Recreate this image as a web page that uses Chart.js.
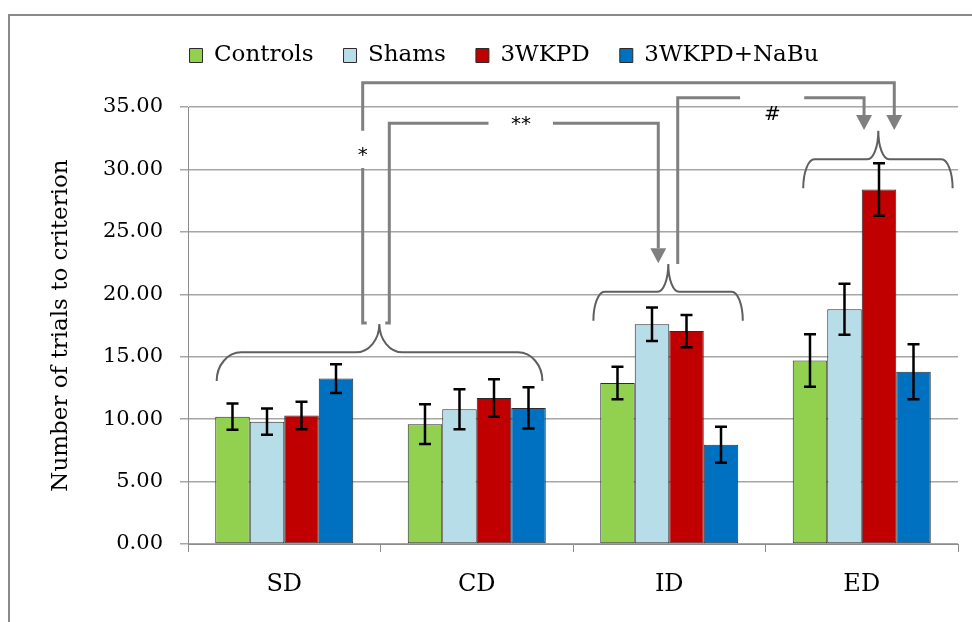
<!DOCTYPE html>
<html>
<head>
<meta charset="utf-8">
<script src="https://cdn.jsdelivr.net/npm/chart.js@4/dist/chart.umd.min.js"></script>
<style>
  html, body { margin: 0; padding: 0; background: #fff; }
  canvas { display: block; }
</style>
</head>
<body>
<canvas id="chart" width="972" height="622"></canvas>
<script>
// Task stages and groups
const categories = ['SD', 'CD', 'ID', 'ED'];
const seriesNames = ['Controls', 'Shams', '3WKPD', '3WKPD+NaBu'];

// Mean trials to criterion per stage
const controls = [10.2, 9.6, 12.9, 14.7];
const shams    = [9.8, 10.8, 17.6, 18.8];
const wkpd     = [10.3, 11.7, 17.05, 28.4];
const wkpdNaBu = [13.25, 10.9, 7.95, 13.8];

// Error (± SEM)
const controlsErr = [1.05, 1.6, 1.3, 2.1];
const shamsErr    = [1.05, 1.6, 1.35, 2.05];
const wkpdErr     = [1.1, 1.5, 1.3, 2.1];
const wkpdNaBuErr = [1.15, 1.65, 1.45, 2.2];

// Y axis range
const yMin = 0, yMax = 35, yStep = 5;

const colors = ['#92D050', '#B7DEE8', '#C00000', '#0070C0'];
const values = [controls, shams, wkpd, wkpdNaBu];
const errors = [controlsErr, shamsErr, wkpdErr, wkpdNaBuErr];

// Significance markers: braces over grouped stages and connector arrows.
// x positions are in category units (0 = SD centre), y positions in axis units.
const braces = [
  { from: -0.351, to: 1.341, peak: 0.494, yEnd: 13.05, yMid: 15.35, yPeak: 17.62 },
  { from: 1.606, to: 2.382, peak: 1.995, yEnd: 17.88, yMid: 20.21, yPeak: 22.43 },
  { from: 2.696, to: 3.472, peak: 3.086, yEnd: 28.49, yMid: 30.81, yPeak: 33.10 }
];
const connectors = [
  { label: '*', hook: 1,
    path: [[0.4075, 17.70], [0.4075, 36.95], [3.169, 36.95], [3.169, 33.16]],
    gap: { seg: 0, a: 30.11, b: 33.10 }, text: [0.4075, 31.33] },
  { label: '**', hook: -1,
    path: [[0.5457, 17.70], [0.5457, 33.69], [1.943, 33.69], [1.943, 22.48]],
    gap: { seg: 1, a: 1.061, b: 1.396 }, text: [1.23, 33.80] },
  { label: '#', hook: 0,
    path: [[2.044, 22.43], [2.044, 35.74], [3.012, 35.74], [3.012, 33.16]],
    gap: { seg: 1, a: 2.368, b: 2.701 }, text: [2.536, 34.62] }
];

Chart.defaults.font.family = '"DejaVu Serif", "Liberation Serif", serif';
Chart.defaults.color = '#000';

function catX(chart, u) {
  const s = chart.scales.x;
  const c0 = s.getPixelForValue(0), c1 = s.getPixelForValue(1);
  return c0 + u * (c1 - c0);
}
function valY(chart, v) { return chart.scales.y.getPixelForValue(v); }

const frame = {
  id: 'frame',
  beforeDraw(chart) {
    const ctx = chart.ctx;
    ctx.save();
    ctx.fillStyle = '#fff';
    ctx.fillRect(0, 0, chart.width, chart.height);
    ctx.strokeStyle = '#8a8a8a';
    ctx.lineWidth = 2;
    ctx.strokeRect(9, 15, chart.width + 20, chart.height + 20);
    ctx.restore();
  }
};

const errorBars = {
  id: 'errorBars',
  afterDatasetsDraw(chart) {
    const ctx = chart.ctx;
    ctx.save();
    ctx.strokeStyle = '#000';
    ctx.lineWidth = 2.5;
    chart.data.datasets.forEach((ds, i) => {
      chart.getDatasetMeta(i).data.forEach((bar, j) => {
        const v = ds.data[j], e = ds.errors[j];
        const x = bar.x;
        const yt = valY(chart, v + e), yb = valY(chart, v - e);
        ctx.beginPath();
        ctx.moveTo(x, yt); ctx.lineTo(x, yb);
        ctx.moveTo(x - 6, yt); ctx.lineTo(x + 6, yt);
        ctx.moveTo(x - 6, yb); ctx.lineTo(x + 6, yb);
        ctx.stroke();
      });
    });
    ctx.restore();
  }
};

const significance = {
  id: 'significance',
  afterDraw(chart) {
    const ctx = chart.ctx;
    ctx.save();
    // braces
    ctx.strokeStyle = '#5f5f5f';
    ctx.lineWidth = 2;
    braces.forEach(b => {
      const xL = catX(chart, b.from), xR = catX(chart, b.to), xP = catX(chart, b.peak);
      const yE = valY(chart, b.yEnd), yH = valY(chart, b.yMid), yP = valY(chart, b.yPeak);
      const w = xR - xL;
      const r = 0.075 * w, m = 0.072 * w, k = 0.552;
      ctx.beginPath();
      ctx.moveTo(xL, yE);
      ctx.bezierCurveTo(xL, yE - k * (yE - yH), xL + (1 - k) * r, yH, xL + r, yH);
      ctx.lineTo(xP - m, yH);
      ctx.bezierCurveTo(xP - m + k * m, yH, xP, yP + k * (yH - yP), xP, yP);
      ctx.bezierCurveTo(xP, yP + k * (yH - yP), xP + m - k * m, yH, xP + m, yH);
      ctx.lineTo(xR - r, yH);
      ctx.bezierCurveTo(xR - (1 - k) * r, yH, xR, yE - k * (yE - yH), xR, yE);
      ctx.stroke();
    });
    // connectors with arrow heads
    ctx.strokeStyle = '#808080';
    ctx.fillStyle = '#808080';
    ctx.lineWidth = 3;
    connectors.forEach(c => {
      const pts = c.path.map(p => [catX(chart, p[0]), valY(chart, p[1])]);
      const last = pts[pts.length - 1];
      const headH = 15, headW = 8;
      ctx.beginPath();
      if (c.hook) {
        ctx.moveTo(pts[0][0] + 4 * c.hook, pts[0][1]);
        ctx.lineTo(pts[0][0], pts[0][1]);
      } else {
        ctx.moveTo(pts[0][0], pts[0][1]);
      }
      for (let i = 1; i < pts.length; i++) {
        const p0 = pts[i - 1];
        let p1 = pts[i];
        if (i === pts.length - 1) p1 = [p1[0], p1[1] - headH];
        if (c.gap.seg === i - 1) {
          if (p0[0] === p1[0]) {
            const ga = valY(chart, c.gap.a), gb = valY(chart, c.gap.b);
            ctx.lineTo(p0[0], ga);
            ctx.moveTo(p0[0], gb);
          } else {
            ctx.lineTo(catX(chart, c.gap.a), p0[1]);
            ctx.moveTo(catX(chart, c.gap.b), p0[1]);
          }
        }
        ctx.lineTo(p1[0], p1[1]);
      }
      ctx.lineJoin = 'miter';
      ctx.stroke();
      ctx.beginPath();
      ctx.moveTo(last[0] - headW, last[1] - headH);
      ctx.lineTo(last[0] + headW, last[1] - headH);
      ctx.lineTo(last[0], last[1]);
      ctx.closePath();
      ctx.fill();
      // label
      ctx.fillStyle = '#000';
      ctx.font = '20px "DejaVu Sans", sans-serif';
      ctx.textAlign = 'center';
      ctx.textBaseline = 'middle';
      ctx.fillText(c.label, catX(chart, c.text[0]), valY(chart, c.text[1]) + 3);
      ctx.fillStyle = '#808080';
    });
    ctx.restore();
  }
};

new Chart(document.getElementById('chart'), {
  type: 'bar',
  data: {
    labels: categories,
    datasets: seriesNames.map((name, i) => ({
      label: name,
      data: values[i],
      errors: errors[i],
      backgroundColor: colors[i],
      borderColor: '#2b2b2b',
      borderWidth: 1,
      borderSkipped: false,
      barPercentage: 1,
      categoryPercentage: 0.717
    }))
  },
  options: {
    responsive: false,
    animation: false,
    devicePixelRatio: 1,
    layout: { padding: { left: 50, right: 14, top: 14, bottom: 18 } },
    plugins: {
      legend: {
        position: 'top',
        align: 'center',
        labels: { boxWidth: 13, boxHeight: 14, padding: 30, color: '#000', font: { size: 23 } }
      },
      title: {
        display: true,
        text: ' ',
        weight: 100,
        padding: { top: 20, bottom: 0 },
        font: { size: 10, lineHeight: 1 }
      },
      tooltip: { enabled: false }
    },
    scales: {
      x: {
        offset: true,
        grid: { display: true, drawOnChartArea: false, drawTicks: true, tickLength: 8, color: '#8c8c8c', offset: true },
        border: { color: '#8c8c8c' },
        ticks: { color: '#000', font: { size: 24 }, padding: 18 },
        afterFit(s) { s.height = 60; }
      },
      y: {
        min: yMin,
        max: yMax,
        ticks: { stepSize: yStep, color: '#000', font: { size: 21 }, padding: 17, callback: v => v.toFixed(2) },
        grid: { color: '#a6a6a6', lineWidth: 1.5, tickLength: 8 },
        border: { color: '#8c8c8c' },
        title: {
          display: true,
          text: 'Number of trials to criterion',
          color: '#000',
          font: { size: 23, lineHeight: 1 },
          padding: { top: 0, bottom: 0 }
        },
        afterFit(s) { s.width = 138; }
      }
    }
  },
  plugins: [frame, errorBars, significance]
});
</script>
</body>
</html>
